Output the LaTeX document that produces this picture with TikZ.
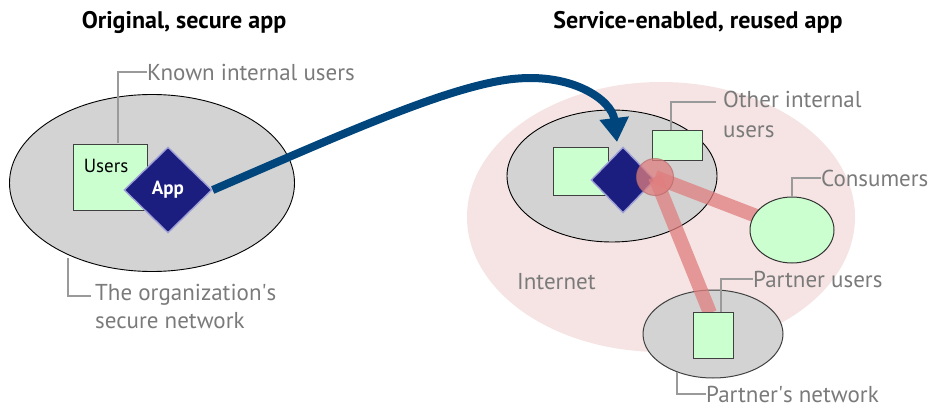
\documentclass[tikz,border=0pt]{standalone}
\usepackage{fontspec}
\setmainfont{PT Sans}
\usetikzlibrary{shapes.geometric,arrows.meta}
\definecolor{netgray}{HTML}{D3D3D3}
\definecolor{usergreen}{HTML}{CCFFD0}
\definecolor{appnavy}{HTML}{1B1E7E}
\definecolor{appglow}{HTML}{A0A0D8}
\definecolor{arrowblue}{HTML}{00467C}
\definecolor{netpink}{HTML}{F6E4E4}
\definecolor{barpink}{HTML}{E07E7E}
\definecolor{leadgray}{HTML}{9A9A9A}
\definecolor{labgray}{HTML}{7A7A7A}
\tikzset{
  net/.style={ellipse, draw=black, line width=0.9pt, fill=netgray, inner sep=0pt},
  usr/.style={rectangle, draw=black!75, line width=1pt, fill=usergreen, inner sep=0pt},
  appbox/.style={diamond, fill=appnavy, draw=appglow, line width=1.4pt, inner sep=0pt, text=white, font=\fontsize{19}{22}\selectfont\bfseries},
  lab/.style={text=labgray, font=\fontsize{23}{28}\selectfont, inner sep=0pt, anchor=west, align=left},
  ttl/.style={font=\fontsize{24}{28}\selectfont\bfseries, inner sep=0pt},
  leader/.style={draw=leadgray, line width=1.6pt},
  bar/.style={draw=barpink, line width=14pt, opacity=0.75},
}
\begin{document}
\begin{tikzpicture}[x=1pt,y=-1pt]
\useasboundingbox (0,0) rectangle (934,409);
% titles
\node[ttl] (t1) at (184,22) {Original, secure app};
\node[ttl] (t2) at (698,22) {Service-enabled, reused app};
% left side
\node[net, minimum width=285, minimum height=177] (lnet) at (152,183) {};
\node[usr, minimum width=74, minimum height=66, anchor=north west] (lusers) at (73,144) {};
\node[text=black, font=\fontsize{19}{22}\selectfont, inner sep=0pt] (lusertxt) at (106,166) {Users};
\node[appbox, minimum width=88, minimum height=86] (lapp) at (168,190) {App};
% leaders left
\node[lab] (known) at (147,72) {Known internal users};
\coordinate (k1) at (118,143);
\draw[leader] (k1) -- (118,72) -- (known.west);
\node[lab, anchor=north west] (org) at (95,284) {The organization\textquotesingle s\\secure network};
\coordinate (o1) at (68,258);
\draw[leader] (o1) -- (68,296) -- (91,296);
% right side
\node[ellipse, fill=netpink, minimum width=388, minimum height=270, inner sep=0pt] (inet) at (661,217) {};
\node[lab] (inettxt) at (517,282) {Internet};
\node[net, minimum width=210, minimum height=132] (rnet) at (612,176) {};
\node[usr, minimum width=55, minimum height=48, anchor=north west] (rusers) at (553,147) {};
\node[usr, minimum width=50, minimum height=30, anchor=north west] (ousers) at (652,130) {};
\node[appbox, minimum width=64, minimum height=66] (rapp) at (623,180) {};
\node[ellipse, draw=black!75, line width=1pt, fill=netgray, minimum width=140, minimum height=88, inner sep=0pt] (pnet) at (713,334) {};
\coordinate (hubc) at (655,177);
\draw[bar] (hubc) -- (772,222);
\draw[bar] (hubc) -- (710,313);
\node[usr, minimum width=40, minimum height=46, anchor=north west] (pusers) at (693,312) {};
\node[ellipse, draw=black!80, line width=1pt, fill=usergreen, minimum width=84, minimum height=66, inner sep=0pt] (cons) at (792,230) {};
\node[circle, fill=barpink, fill opacity=0.75, draw=barpink!80!black, draw opacity=0.6, line width=1pt, minimum size=37, inner sep=0pt] (hub) at (hubc) {};
% arrow
\draw[arrowblue, line width=8pt, -{Triangle[length=24pt, width=28pt]}]
  (lapp.east) .. controls (340,135) and (440,90) .. (505,80)
  .. controls (570,70) and (612,100) .. (617,142);
% right leaders
\node[lab, anchor=north west, font=\fontsize{23}{30}\selectfont] (other) at (723,91) {Other internal\\users};
\coordinate (oi1) at (671,130);
\draw[leader] (oi1) -- (671,102) -- (716,102);
\node[lab] (constxt) at (821,178) {Consumers};
\draw[leader] (cons.north) -- (792,178) -- (constxt.west);
\node[lab] (ptxt) at (753,279) {Partner users};
\coordinate (pu1) at (721,312);
\draw[leader] (pu1) -- (721,279) -- (ptxt.west);
\node[lab] (pntxt) at (706,394) {Partner\textquotesingle s network};
\coordinate (pn1) at (677,372);
\draw[leader] (pn1) -- (677,394) -- (pntxt.west);
\end{tikzpicture}
\end{document}
